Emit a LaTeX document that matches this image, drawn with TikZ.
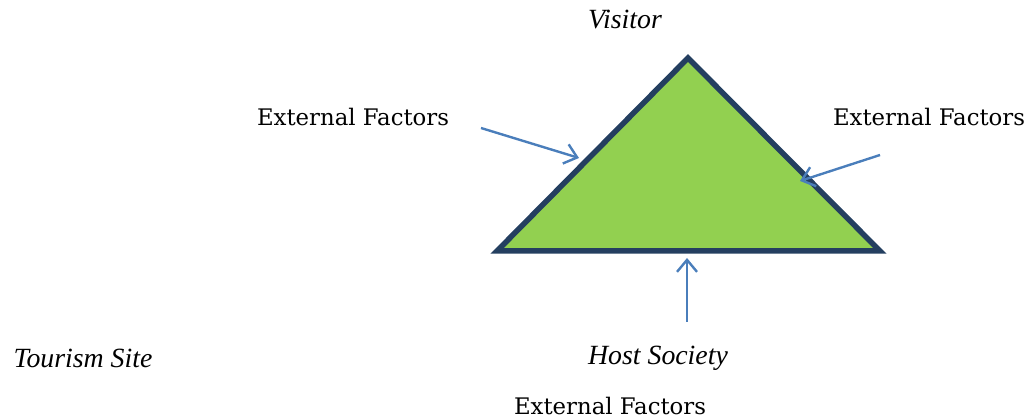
\documentclass[tikz,border=0pt]{standalone}
\usepackage{fontspec}
\setmainfont{DejaVu Serif}
\newfontfamily\itfont{Liberation Serif}[ItalicFont={Liberation Serif Italic}]
\usetikzlibrary{arrows.meta}
\definecolor{trifill}{HTML}{92D050}
\definecolor{tridraw}{HTML}{243F60}
\definecolor{arr}{HTML}{4A7EBB}
\tikzset{
  lbl/.style={inner sep=0pt, font=\fontsize{22.8}{24}\selectfont},
  ilbl/.style={inner sep=0pt, font=\itfont\itshape\fontsize{27.8}{30}\selectfont},
  extarrow/.style={draw=arr, line width=2.4pt, -{Straight Barb[length=12pt,width=20pt,line width=2.4pt]}},
  tri/.style={fill=trifill, draw=tridraw, line width=5.5pt, line join=miter}
}
\begin{document}
\begin{tikzpicture}[x=1pt,y=-1pt]
\useasboundingbox (0,0) rectangle (1026,419);
\coordinate (apex) at (688,58);
\coordinate (bl) at (497,251);
\coordinate (br) at (880,251);
\draw[tri] (apex) -- (br) -- (bl) -- cycle;
\node[ilbl] (visitor) at (625,20) {Visitor};
\node[lbl] (efl) at (353,117) {External Factors};
\node[lbl] (efr) at (929,117) {External Factors};
\node[ilbl] (site) at (83,358) {Tourism Site};
\node[ilbl] (host) at (658,358) {Host Society};
\node[lbl] (efb) at (610,406) {External Factors};
\coordinate (a1s) at (481,128);
\coordinate (a1e) at (579,158);
\coordinate (a2s) at (880,155);
\coordinate (a2e) at (800,181);
\coordinate (a3s) at (687,322);
\coordinate (a3e) at (687,258);
\draw[extarrow] (a1s) -- (a1e);
\draw[extarrow] (a2s) -- (a2e);
\draw[extarrow] (a3s) -- (a3e);
\end{tikzpicture}
\end{document}
